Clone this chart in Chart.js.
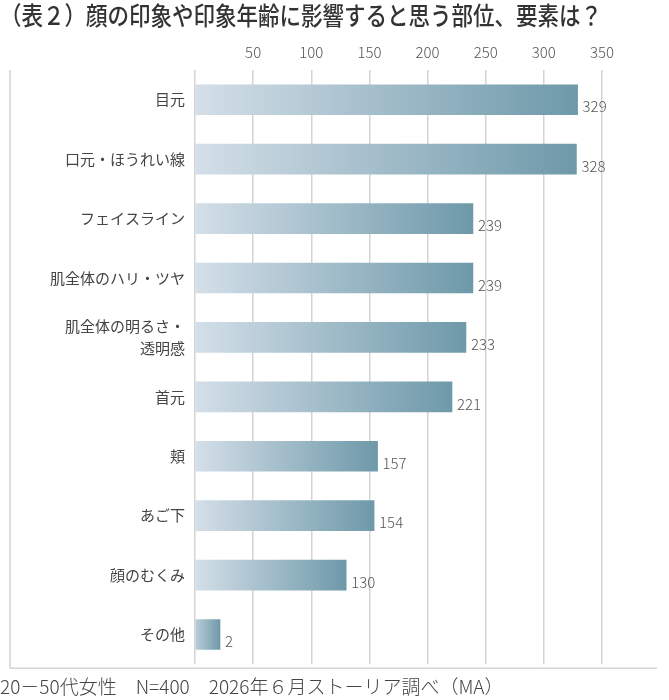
<!DOCTYPE html>
<html>
<head>
<meta charset="utf-8">
<script src="https://cdn.jsdelivr.net/npm/chart.js@4/dist/chart.umd.min.js"></script>
<style>
  html, body { margin: 0; padding: 0; background: #fff; }
  #wrap { width: 669px; height: 700px; }
</style>
</head>
<body>
<div id="wrap"><canvas id="chartParts"></canvas></div>
<script>
const labels = ["目元", "口元・ほうれい線", "フェイスライン", "肌全体のハリ・ツヤ", ["肌全体の明るさ・", "透明感"], "首元", "頬", "あご下", "顔のむくみ", "その他"];
const counts = [329, 328, 239, 239, 233, 221, 157, 154, 130, 2];
const ticks = [50, 100, 150, 200, 250, 300, 350];

const jp = "'Noto Sans CJK JP', 'Noto Sans', sans-serif";

// gradient light -> steel blue, per bar
function barFill(ctx) {
  const chart = ctx.chart;
  if (!chart.chartArea) return "#9db6c3";
  const x = chart.scales.x;
  const x0 = x.getPixelForValue(0);
  const x1 = Math.max(x.getPixelForValue(counts[ctx.dataIndex]), x0 + 25);
  const g = chart.ctx.createLinearGradient(x0, 0, x1, 0);
  g.addColorStop(0, counts[ctx.dataIndex] < 20 ? "#bccfdb" : "#d4dfe9");
  g.addColorStop(1, "#6e99a9");
  return g;
}

const valueLabels = {
  id: "valueLabels",
  afterDatasetsDraw(chart) {
    const c = chart.ctx;
    const meta = chart.getDatasetMeta(0);
    c.save();
    c.font = "300 15px " + jp;
    c.fillStyle = "#555";
    c.textBaseline = "middle";
    meta.data.forEach((bar, i) => {
      c.fillText(counts[i], bar.x + 5, bar.y + 7);
    });
    c.restore();
  }
};

const frame = {
  id: "frame",
  beforeDatasetsDraw(chart) {
    const c = chart.ctx;
    const a = chart.chartArea;
    c.save();
    c.strokeStyle = "#d4d4d4";
    c.lineWidth = 1.5;
    c.beginPath();
    c.moveTo(10, a.top);
    c.lineTo(10, a.bottom + 4);
    c.moveTo(10, a.bottom + 4);
    c.lineTo(a.right + 55, a.bottom + 4);
    c.stroke();
    c.restore();
  }
};

new Chart(document.querySelector("#chartParts"), {
  type: "bar",
  data: {
    labels: labels,
    datasets: [
      {
        data: counts,
        backgroundColor: barFill,
        borderWidth: 0,
        barThickness: 30,
        minBarLength: 25,
      },
    ],
  },
  plugins: [frame, valueLabels],
  options: {
    indexAxis: "y",
    responsive: true,
    maintainAspectRatio: false,
    animation: false,
    layout: { padding: { left: 0, right: 67, top: 0, bottom: 2 } },
    scales: {
      x: {
        position: "top",
        min: 0,
        max: 350,
        afterBuildTicks: (s) => { s.ticks = [0].concat(ticks).map((v) => ({ value: v })); },
        ticks: {
          callback: (v) => (v === 0 ? "" : v),
          color: "#555",
          font: { family: jp, size: 15, weight: 300 },
          padding: 9,
        },
        grid: { color: "#d4d4d4", lineWidth: 1.5, drawTicks: false },
        border: { display: false },
      },
      y: {
        afterFit: (s) => { s.width = 195; },
        ticks: {
          color: "#444",
          font: { family: jp, size: 15, weight: 400, lineHeight: 1.5 },
          padding: 2,
        },
        grid: { display: false },
        border: { display: false },
      },
    },
    plugins: {
      legend: { display: false },
      tooltip: { enabled: false },
      title: {
        display: true,
        text: "（表２）顔の印象や印象年齢に影響すると思う部位、要素は？",
        align: "start",
        color: "#333",
        font: { family: jp, size: 25, weight: 500 },
        padding: { top: 0, bottom: 4 },
      },
      subtitle: {
        display: true,
        position: "bottom",
        align: "start",
        text: "20－50代女性　N=400　2026年６月ストーリア調べ（MA）",
        color: "#444",
        font: { family: jp, size: 19, weight: 300 },
        padding: { top: 11, bottom: 0 },
      },
    },
  },
});
</script>
</body>
</html>
